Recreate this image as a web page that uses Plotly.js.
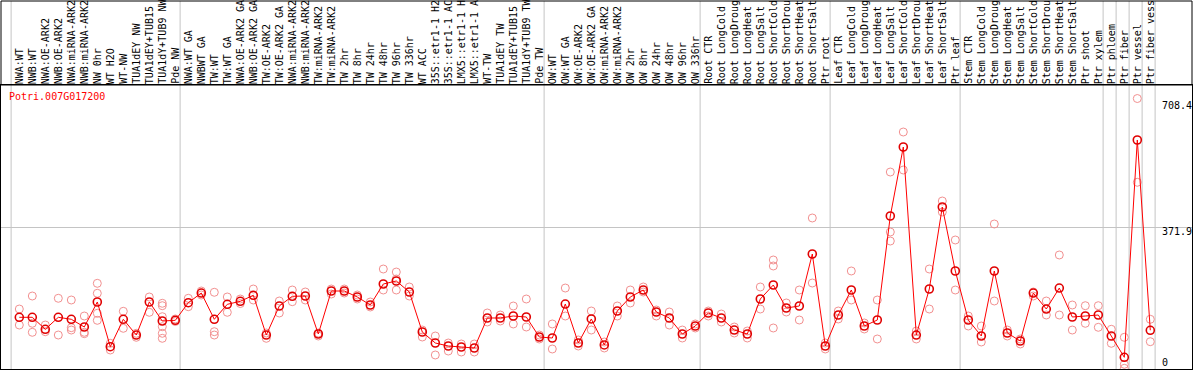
<!DOCTYPE html>
<html>
<head>
<meta charset="utf-8">
<script src="https://cdn.plot.ly/plotly-3.0.1.min.js"></script>
<style>
html,body{margin:0;padding:0;background:#fff;}
#chart{width:1194px;height:370px;}
</style>
</head>
<body>
<div id="chart"></div>
<script>
const geneId = 'Potri.007G017200';

const categories = [
  'NWA:WT','NWB:WT','NWA:OE-ARK2','NWB:OE-ARK2','NWA:miRNA-ARK2','NWB:miRNA-ARK2','NW 0hr','WT H2O','WT-NW','TUA1dEY NW','TUA1dEY+TUB15','TUA1dY+TUB9 NW','Pde NW',
  'NWA:WT GA','NWBWT GA','TW:WT','TW:WT GA','NWA:OE-ARK2 GA','NWB:OE-ARK2 GA','TW:OE-ARK2','TW:OE-ARK2 GA','NWA:miRNA-ARK2','NWB:miRNA-ARK2','TW:miRNA-ARK2','TW:miRNA-ARK2',
  'TW 2hr','TW 8hr','TW 24hr','TW 48hr','TW 96hr','TW 336hr','WT ACC','35S::etr1-1 H2','35S::etr1-1 AC','LMX5::etr1-1 H','LMX5::etr1-1 A','WT-TW','TUA1dEY TW','TUA1dEY+TUB15','TUA1dY+TUB9 TW','Pde TW',
  'OW:WT','OW:WT GA','OW:OE-ARK2','OW:OE-ARK2 GA','OW:miRNA-ARK2','OW:miRNA-ARK2','OW 2hr','OW 8hr','OW 24hr','OW 48hr','OW 96hr','OW 336hr',
  'Root CTR','Root LongCold','Root LongDroug','Root LongHeat','Root LongSalt','Root ShortCold','Root ShortDrou','Root ShortHeat','Root ShortSalt','Ptr root',
  'Leaf CTR','Leaf LongCold','Leaf LongDroug','Leaf LongHeat','Leaf LongSalt','Leaf ShortCold','Leaf ShortDrou','Leaf ShortHeat','Leaf ShortSalt','Ptr leaf',
  'Stem CTR','Stem LongCold','Stem LongDroug','Stem LongHeat','Stem LongSalt','Stem ShortCold','Stem ShortDrou','Stem ShortHeat','Stem ShortSalt','Ptr shoot','Ptr xylem',
  'Ptr phloem','Ptr fiber','Ptr vessel','Ptr fiber vess'
];

// first category index of each sample group (last entry = end)
const groupStarts = [0, 13, 41, 53, 63, 73, 84, 85, 86, 87, 88];

const meanValues = [
  135.4,135.4,104.0,135.4,130.2,110.0,175.5,58.4,130.2,89.0,175.5,125.7,127.5,
  173.6,199.0,130.2,169.4,177.3,193.0,89.0,165.0,190.4,191.2,91.7,204.3,
  204.3,188.6,167.6,222.6,230.5,201.7,96.9,68.1,60.2,57.6,55.0,133.6,133.6,138.8,136.2,83.8,
  81.2,170.2,68.1,131.0,62.9,151.9,188.6,206.9,149.3,133.6,91.7,112.6,
  146.7,133.6,102.1,91.7,183.3,220.0,159.8,165.0,301.2,60.2,
  141.4,206.9,112.6,128.3,400.7,581.4,89.0,209.5,424.3,256.7,
  128.3,86.4,256.7,94.3,73.3,199.0,157.1,212.1,136.2,138.8,141.4,
  86.4,30.6,599.8,101.4
];

const replicateValues = [
  [157.1,115.2],[191.2,119.7,96.1],[115.2,97.7],[185.2,89.0],[180.7,108.2,102.1],[138.8,96.1,92.5],
  [224.4,198.3,145.9,127.5],[67.3,49.8],[151.1,106.6],[93.5,83.0],[188.6,148.5],
  [172.1,165.8,137.0,110.8,93.5,80.4],[131.0,124.4],
  [185.2,163.2],[204.3,193.8],[200.9,97.7,89.0],[188.6,148.5],[183.3,171.5],[209.5,180.7],
  [94.3,80.4],[178.1,146.7],[206.9,176.3],[201.7,180.7],[94.3,86.4],[209.5,196.4],
  [209.5,199.0],[193.8,183.3],[175.5,162.4],[261.9,206.9],[254.0,235.7,206.9],[214.8,191.2],
  [102.1,83.8],[86.4,36.7],[68.1,47.1],[65.5,44.5],[65.5,44.5],[146.7,123.1],[141.4,125.7],
  [165.0,117.9],[183.3,110.0],[89.0,78.6],
  [117.9,52.4],[212.1,138.8],[76.0,60.2],[151.9,102.1],[70.7,55.0],[165.0,138.8],[206.9,172.9],
  [214.8,201.7],[154.5,138.8],[149.3,115.2],[102.1,81.2],[117.9,107.4],
  [151.9,138.8],[144.0,123.1],[110.0,94.3],[99.5,81.2],[214.8,157.1],[285.5,269.8,107.4],
  [172.9,149.3],[206.9,128.3],[395.5,225.2],[68.1,52.4],
  [151.9,131.0],[256.7,180.7],[120.5,104.8],[180.7,78.6],[515.9,358.8,335.2],[620.7,521.2],
  [99.5,78.6],[261.9,157.1],[440.0,411.2],[337.9,206.9],
  [138.8,112.6],[112.6,70.7],[379.8,178.1],[102.1,86.4],[78.6,65.5],[201.7,191.2],[178.1,141.4],
  [298.6,141.4],[167.6,102.1],[165.8,119.7],[165.8,109.2],
  [104.0,67.3],[83.0,12.3,1.8],[708.4,489.0],[130.2,71.5]
];

const yTickVals = [0, 371.9, 708.4];
const yTickText = ['0', '371.9', '708.4'];

const yMax = Math.max(...replicateValues.flat(), ...meanValues);
const yTop = yMax * 1.05;

const xIdx = categories.map((_, i) => i);
const repX = [], repY = [];
replicateValues.forEach((arr, i) => arr.forEach(v => { repX.push(i); repY.push(v); }));

const MONO = 'DejaVu Sans Mono, Liberation Mono, monospace';

const traces = [
  {
    x: repX, y: repY, type: 'scatter', mode: 'markers',
    marker: {symbol: 'circle-open', size: 8, color: '#f29090', line: {width: 1, color: '#f29090'}},
    hoverinfo: 'skip', showlegend: false
  },
  {
    x: xIdx, y: meanValues, type: 'scatter', mode: 'lines+markers',
    line: {color: '#ff0000', width: 1},
    marker: {symbol: 'circle-open', size: 8, color: '#e00000', line: {width: 1.6, color: '#e00000'}},
    showlegend: false
  }
];

const bandTop = 1 + 84 / 284;

const shapes = groupStarts.map(g => ({
  type: 'line', xref: 'x', yref: 'paper',
  x0: g - 0.63, x1: g - 0.63, y0: 0, y1: bandTop,
  line: {color: '#c4c4c4', width: 1}, layer: 'below'
}));
shapes.push({
  type: 'rect', xref: 'paper', yref: 'paper', x0: 0, x1: 1, y0: 1, y1: bandTop,
  line: {color: '#000', width: 1}, fillcolor: 'rgba(0,0,0,0)'
});

const annotations = categories.map((c, i) => ({
  x: i, y: 1, xref: 'x', yref: 'paper', text: c, showarrow: false,
  textangle: -90, xanchor: 'center', yanchor: 'bottom', yshift: -1,
  font: {family: MONO, size: 10, color: '#000'}
}));
const tickShift = [7, -4, -7];
yTickVals.forEach((v, k) => {
  annotations.push({
    x: 0.9755, xref: 'paper', y: v, yref: 'y', text: yTickText[k], showarrow: false,
    xanchor: 'left', yanchor: 'middle', xshift: -3, yshift: tickShift[k],
    font: {family: MONO, size: 10, color: '#000'}
  });
});
annotations.push({
  x: 0, xref: 'paper', y: 1, yref: 'paper', text: geneId, showarrow: false,
  xanchor: 'left', yanchor: 'top', xshift: 6, yshift: -4,
  font: {family: MONO, size: 10, color: '#ff0000'}
});

const layout = {
  width: 1194, height: 370,
  margin: {l: 1, r: 2, t: 85, b: 1, pad: 0},
  paper_bgcolor: '#fff', plot_bgcolor: '#fff',
  showlegend: false,
  xaxis: {
    range: [-1.408, 90.208], showgrid: false, zeroline: false, showticklabels: false,
    ticks: '', showline: true, mirror: true, linecolor: '#000', linewidth: 1, fixedrange: true
  },
  yaxis: {
    range: [0, yTop], tickvals: [yTickVals[1]], showticklabels: false, ticks: '',
    showgrid: true, gridcolor: '#c4c4c4', gridwidth: 1, zeroline: false,
    showline: true, mirror: true, linecolor: '#000', linewidth: 1, fixedrange: true
  },
  shapes: shapes,
  annotations: annotations
};

Plotly.newPlot('chart', traces, layout, {staticPlot: true, displayModeBar: false});
</script>
</body>
</html>
